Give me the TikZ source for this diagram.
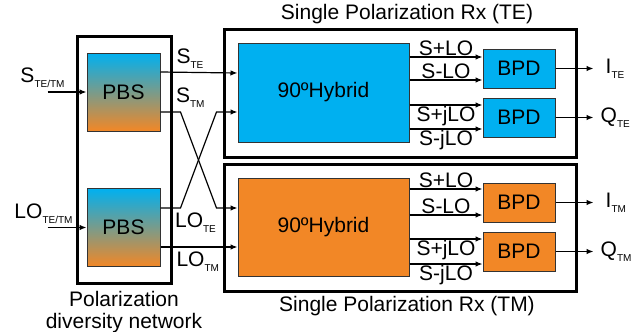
\documentclass[tikz,border=0pt]{standalone}
\usepackage{fontspec}
\setmainfont{Liberation Sans}
\usepackage{tikz}
\usetikzlibrary{arrows.meta,positioning,calc}
\definecolor{hybblue}{RGB}{0,176,240}
\definecolor{hyborange}{RGB}{242,135,38}
\tikzset{
  rxframe/.style={draw, line width=3pt, inner sep=0pt},
  hybbox/.style={draw=black!80, line width=1pt, inner sep=0pt, minimum width=171pt, minimum height=99pt, font=\fontsize{21}{24}\selectfont},
  bpdbox/.style={draw=black!80, line width=1pt, inner sep=0pt, minimum width=72pt, minimum height=39pt, font=\fontsize{21}{24}\selectfont},
  pbsbox/.style={draw=black!80, line width=1pt, inner sep=0pt, minimum width=73pt, minimum height=78pt, top color=hybblue, bottom color=hyborange, font=\fontsize{21}{24}\selectfont},
  sig/.style={-{Latex[length=7pt,width=5.5pt]}, line width=1.2pt},
  lbl/.style={inner sep=0pt, font=\fontsize{21}{24}\selectfont},
  wirelbl/.style={inner sep=1pt, font=\fontsize{21}{24}\selectfont}
}
\newcommand{\sub}[1]{\raisebox{-0.45ex}{\fontsize{10}{10}\selectfont #1}}

\begin{document}
\begin{tikzpicture}[x=1pt, y=-1pt]
\useasboundingbox (0,0) rectangle (638,332);
% polarization diversity network
\node[rxframe, minimum width=94pt, minimum height=247pt] (pdn) at (124,159.5) {};
\node[pbsbox] (pbsS) at (123.5,92) {PBS};
\node[pbsbox] (pbsL) at (123.5,227.5) {PBS};
\node[lbl, below=7pt of pdn, align=center, font=\fontsize{21}{22}\selectfont] (pdnlbl) {Polarization\\diversity network};
% receivers
\node[rxframe, minimum width=352pt, minimum height=128pt] (rxTE) at (400,93) {};
\node[rxframe, minimum width=352pt, minimum height=127pt] (rxTM) at (400,227.5) {};
\node[lbl, above=3pt of rxTE, xshift=7pt] (titleTE) {Single Polarization Rx (TE)};
\node[lbl, below=4pt of rxTM, xshift=7pt] (titleTM) {Single Polarization Rx (TM)};
\node[hybbox, fill=hybblue] (hybTE) at (323.5,92.5) {90ºHybrid};
\node[hybbox, fill=hyborange, minimum height=98pt] (hybTM) at (323.5,227) {90ºHybrid};
\node[bpdbox, fill=hybblue] (bpdTEi) at (519,68.5) {BPD};
\node[bpdbox, fill=hybblue] (bpdTEq) at (519,117.5) {BPD};
\node[bpdbox, fill=hyborange] (bpdTMi) at (519,202.5) {BPD};
\node[bpdbox, fill=hyborange] (bpdTMq) at (519,251.5) {BPD};
% inputs
\coordinate[left=39pt of pbsS.west] (sIn);
\coordinate[left=39pt of pbsL.west] (loIn);
\node[lbl, above=4pt of sIn, xshift=-5pt] (sInlbl) {S\sub{TE/TM}};
\node[lbl, above=4pt of loIn, xshift=-4pt] (loInlbl) {LO\sub{TE/TM}};
\draw[sig] (sIn) -- (pbsS.west);
\draw[sig] (loIn) -- (pbsL.west);
% PBS outputs to the hybrids
\coordinate (teS) at ([yshift=19.5pt]hybTE.west);
\coordinate (teLO) at ([yshift=-19.5pt]hybTE.west);
\coordinate (tmS) at ([yshift=19pt]hybTM.west);
\coordinate (tmLO) at ([yshift=-20pt]hybTM.west);
\draw[sig] ([yshift=20pt]pbsS.east) -- node[lbl, pos=0.2, anchor=south west, yshift=3pt] {S\sub{TE}} (teS);
\draw[sig] ([yshift=-20pt]pbsS.east) -- node[lbl, pos=0.75, anchor=south west, yshift=4pt] {S\sub{TM}} ++(20,0) -- ([xshift=-21pt]tmS) -- (tmS);
\draw[sig] ([yshift=19.5pt]pbsL.east) -- node[lbl, pos=0.7, anchor=north west, yshift=-4pt] {LO\sub{TE}} ++(20,0) -- ([xshift=-21pt]teLO) -- (teLO);
\draw[sig] ([yshift=-19.5pt]pbsL.east) -- node[lbl, pos=0.2, anchor=north west, yshift=-4pt] {LO\sub{TM}} (tmLO);
% BPD inputs
\coordinate (teA) at ([yshift=11.5pt]bpdTEi.west);
\coordinate (teB) at ([yshift=-11.5pt]bpdTEi.west);
\coordinate (teC) at ([yshift=12.5pt]bpdTEq.west);
\coordinate (teD) at ([yshift=-11.5pt]bpdTEq.west);
\coordinate (tmA) at ([yshift=13.5pt]bpdTMi.west);
\coordinate (tmB) at ([yshift=-12.5pt]bpdTMi.west);
\coordinate (tmC) at ([yshift=12.5pt]bpdTMq.west);
\coordinate (tmD) at ([yshift=-12.5pt]bpdTMq.west);
% hybrid outputs (TE)
\draw[sig] (hybTE.east |- teA) -- node[wirelbl, above] {S+LO} (teA);
\draw[sig] (hybTE.east |- teB) -- node[wirelbl, above] {S-LO} (teB);
\draw[sig] (hybTE.east |- teC) -- node[wirelbl, below] {S+jLO} (teC);
\draw[sig] (hybTE.east |- teD) -- node[wirelbl, below] {S-jLO} (teD);
% hybrid outputs (TM)
\draw[sig] (hybTM.east |- tmA) -- node[wirelbl, above] {S+LO} (tmA);
\draw[sig] (hybTM.east |- tmB) -- node[wirelbl, above] {S-LO} (tmB);
\draw[sig] (hybTM.east |- tmC) -- node[wirelbl, below] {S+jLO} (tmC);
\draw[sig] (hybTM.east |- tmD) -- node[wirelbl, below] {S-jLO} (tmD);
% detector outputs
\coordinate[right=38pt of bpdTEi.east] (outIte);
\coordinate[right=38pt of bpdTEq.east] (outQte);
\coordinate[right=38pt of bpdTMi.east] (outItm);
\coordinate[right=38pt of bpdTMq.east] (outQtm);
\draw[sig] (bpdTEi.east) -- (outIte);
\draw[sig] (bpdTEq.east) -- (outQte);
\draw[sig] (bpdTMi.east) -- (outItm);
\draw[sig] (bpdTMq.east) -- (outQtm);
\node[lbl, right=12pt of outIte] (Ite) {I\sub{TE}};
\node[lbl, right=7pt of outQte] (Qte) {Q\sub{TE}};
\node[lbl, right=12pt of outItm] (Itm) {I\sub{TM}};
\node[lbl, right=7pt of outQtm] (Qtm) {Q\sub{TM}};
\end{tikzpicture}
\end{document}
